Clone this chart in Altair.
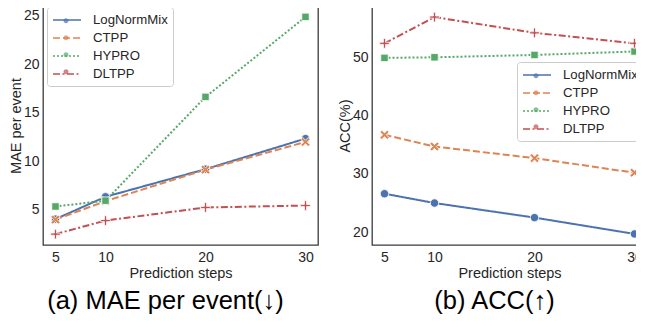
import altair as alt
import pandas as pd

steps = [5, 10, 20, 30]
methods = ["LogNormMix", "CTPP", "HYPRO", "DLTPP"]
colors = ["#4C72B0", "#DD8452", "#55A868", "#C44E52"]
dashes = [[1, 0], [7, 3], [2, 2], [7, 2.5, 2, 2.5]]
shapes = [
    "circle",
    "M-1,-0.6L-0.6,-1L0,-0.4L0.6,-1L1,-0.6L0.4,0L1,0.6L0.6,1L0,0.4L-0.6,1L-1,0.6L-0.4,0Z",
    "square",
    "M-0.22,-1H0.22V-0.22H1V0.22H0.22V1H-0.22V0.22H-1V-0.22H-0.22Z",
]
marker_sizes = [70, 85, 55, 95]

mae_lognormmix = [4.05, 6.35, 9.2, 12.35]
mae_ctpp = [4.0, 5.9, 9.15, 12.0]
mae_hypro = [5.35, 5.95, 16.65, 24.9]
mae_dltpp = [2.5, 3.9, 5.25, 5.45]

acc_lognormmix = [26.6, 25.0, 22.5, 19.7]
acc_ctpp = [36.7, 34.7, 32.7, 30.2]
acc_hypro = [49.9, 50.0, 50.4, 51.0]
acc_dltpp = [52.4, 56.9, 54.2, 52.4]

FONT = "Liberation Sans"
TXT = "#262626"
LFS = 13.2
marker_keys = [m + "\u00b7" for m in methods]
LEG_LINE = "M-1,0H3"
LEG_DOT = "M1.36,0.25A0.36,0.36 0 1 1 0.64,0.25A0.36,0.36 0 1 1 1.36,0.25Z"


def make_df(series):
    rows = []
    for m, vals in zip(methods, series):
        for s, v in zip(steps, vals):
            rows.append({"step": s, "value": v, "method": m})
    return pd.DataFrame(rows)


def legend_common(lx, ly):
    return dict(title=None, orient="none", legendX=lx, legendY=ly,
                symbolSize=196, labelFontSize=LFS, labelFont=FONT,
                rowPadding=3, labelOffset=25, padding=5)


def panel(df, ydom, yticks, ytitle, title, lx, ly):
    x = alt.X("step:Q", scale=alt.Scale(domain=[3.75, 31.25], nice=False, zero=False),
              axis=alt.Axis(values=steps, title="Prediction steps"))
    y = alt.Y("value:Q", scale=alt.Scale(domain=ydom, nice=False, zero=False),
              axis=alt.Axis(values=yticks, title=ytitle))
    color = alt.Color("method:N", scale=alt.Scale(domain=methods, range=colors),
                      legend=alt.Legend(symbolType=LEG_LINE, symbolStrokeWidth=1.5,
                                        labelColor=TXT, strokeColor="#cccccc",
                                        cornerRadius=3, fillColor="white",
                                        **legend_common(lx, ly)))
    dash = alt.StrokeDash("method:N", scale=alt.Scale(domain=methods, range=dashes),
                          legend=alt.Legend(title=None, orient="none", legendX=lx, legendY=ly))
    lines = alt.Chart(df).mark_line(strokeWidth=2).encode(
        x=x, y=y, color=color, strokeDash=dash, detail="method:N")
    # invisible layer that only provides the small legend markers
    marker_legend = alt.Chart(df).transform_calculate(
        mk="datum.method + '\u00b7'"
    ).mark_point(filled=True, size=0, strokeWidth=0).encode(
        x=x, y=y,
        fill=alt.Fill("mk:N", scale=alt.Scale(domain=marker_keys, range=colors),
                      legend=alt.Legend(symbolType=LEG_DOT, symbolStrokeWidth=0,
                                        labelExpr="' '", **legend_common(lx, ly))),
    )
    layers = [lines]
    for m, c, s, sz in zip(methods, colors, shapes, marker_sizes):
        layers.append(
            alt.Chart(df).transform_filter(alt.datum.method == m).mark_point(
                filled=True, fill=c, shape=s, size=sz, stroke="white",
                strokeWidth=0.8, opacity=1).encode(x=x, y=y)
        )
    layers.append(marker_legend)
    return alt.layer(*layers).properties(
        width=275, height=239,
        title=alt.TitleParams(title, orient="bottom", fontSize=25.5, fontWeight="normal",
                              font=FONT, color="black", offset=9, dx=-15),
    )


left = panel(make_df([mae_lognormmix, mae_ctpp, mae_hypro, mae_dltpp]),
             [1.38, 26.02], [5, 10, 15, 20, 25], "MAE per event",
             "(a) MAE per event(↓)", 4, 1)
right = panel(make_df([acc_lognormmix, acc_ctpp, acc_hypro, acc_dltpp]),
              [17.8, 58.8], [20, 30, 40, 50], "ACC(%)",
              "(b) ACC(↑)", 145, 56)

chart = alt.hconcat(left, right, spacing=17).resolve_scale(
    color="independent", strokeDash="independent", fill="independent"
).resolve_legend(color="independent", strokeDash="independent", fill="independent").properties(
    padding={"left": -1, "top": -3, "right": -12, "bottom": 0}
).configure_view(stroke="#3a3a3a", strokeWidth=1.3).configure_axis(
    grid=False, ticks=False, domain=False,
    labelFontSize=14, labelFont=FONT, labelColor=TXT,
    titleFontSize=14.5, titleFont=FONT, titleColor=TXT, titleFontWeight="normal",
).configure_axisX(titlePadding=2, labelPadding=5).configure_axisY(titlePadding=0, labelPadding=4)

chart.save("out.html", embed_options={"renderer": "svg", "actions": False})
